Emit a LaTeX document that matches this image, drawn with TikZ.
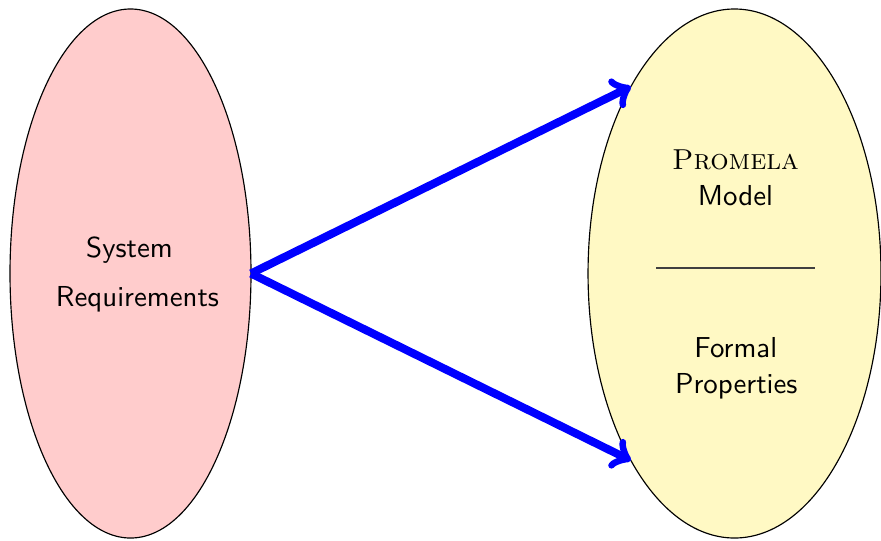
\documentclass[tikz,border=0pt]{standalone}
\usetikzlibrary{shapes.geometric}
\definecolor{reqpink}{RGB}{255,204,204}
\definecolor{modyellow}{RGB}{255,249,196}
\begin{document}
\begin{tikzpicture}[x=0.3465pt,y=-0.3465pt,
  blob/.style={ellipse,draw=black,line width=0.4pt,inner sep=0pt,outer sep=0pt,minimum height=183.3pt},
  lbl/.style={anchor=base,inner sep=0pt,font=\sffamily},
  arr/.style={->,draw=blue,line width=2.8pt},
  divider/.style={draw=black!75,line width=0.5pt}]
\useasboundingbox (0,0) rectangle (881,540);
\node[blob,fill=reqpink,minimum width=83.5pt] (req) at (130.5,273.5) {};
\node[blob,fill=modyellow,minimum width=101.5pt] (mod) at (734.5,273.5) {};
\node[lbl] (sys) at (129.5,257) {System};
\node[lbl] (reqs) at (137.5,306.5) {Requirements};
\node[lbl,font=\rmfamily\scshape] (prom) at (735.5,169.5) {Promela};
\node[lbl] (model) at (735.5,205) {Model};
\node[lbl] (formal) at (735.8,357.5) {Formal};
\node[lbl] (props) at (736.3,393) {Properties};
\coordinate (dl) at (656,268);
\coordinate (dr) at (815,268);
\draw[divider] (dl) -- (dr);
\draw[arr] (req.east) -- (mod.north west);
\draw[arr] (req.east) -- (mod.south west);
\end{tikzpicture}
\end{document}
